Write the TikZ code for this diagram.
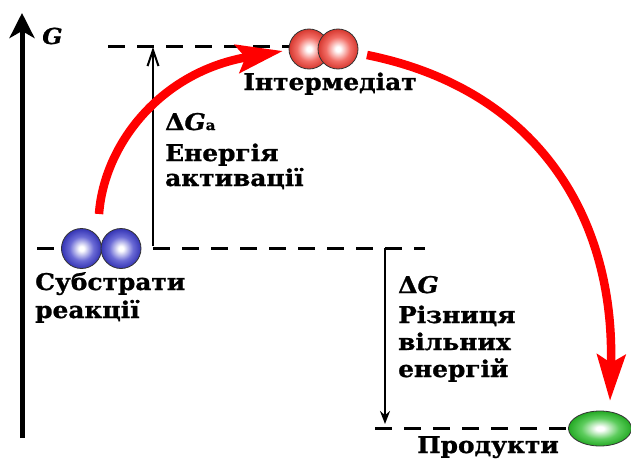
\documentclass[tikz,border=0pt]{standalone}
\usepackage{fontspec}
\setmainfont{DejaVu Serif}[FakeStretch=1.08, BoldFeatures={FakeBold=1}, BoldItalicFeatures={FakeBold=1}]
\usetikzlibrary{arrows.meta,shapes.geometric}

\definecolor{mblue}{RGB}{58,58,200}
\definecolor{mred}{RGB}{238,62,52}
\definecolor{mgreen}{RGB}{40,188,40}
\pgfdeclareradialshading{ballblue}{\pgfpoint{0bp}{0bp}}{color(0bp)=(white); color(3bp)=(white); color(15bp)=(mblue!75!white); color(25bp)=(mblue!90!black); color(50bp)=(mblue!90!black)}
\pgfdeclareradialshading{ballred}{\pgfpoint{0bp}{0bp}}{color(0bp)=(white); color(3bp)=(white); color(15bp)=(mred!75!white); color(25bp)=(mred!90!black); color(50bp)=(mred!90!black)}
\pgfdeclareradialshading{ballgreen}{\pgfpoint{0bp}{0bp}}{color(0bp)=(white); color(3bp)=(white); color(15bp)=(mgreen!75!white); color(25bp)=(mgreen!90!black); color(50bp)=(mgreen!90!black)}

\tikzset{
	level/.style={line width=3pt, dash pattern=on 17pt off 12pt},
	molecule/.style={circle, draw=black!80, line width=0.8pt, minimum size=40pt, inner sep=0pt, shading=#1},
	redarrow/.style={draw=red, line width=8.5pt, -{Stealth[length=46pt,width=28pt,inset=8pt]}},
	lbl/.style={font=\bfseries\fontsize{23}{23}\selectfont, inner sep=0pt, anchor=base west},
}

\begin{document}
\begin{tikzpicture}[x=1pt,y=-1pt]
	\useasboundingbox (0,0) rectangle (631,460);
	% axis G
	\coordinate (gbot) at (22,438);
	\coordinate (gtop) at (22,13);
	\draw[line width=5pt,-{Stealth[length=25pt,width=25pt,inset=7pt]}] (gbot) -- (gtop);
	\node[lbl, font=\bfseries\itshape\fontsize{22}{22}\selectfont] (glab) at (42,44) {G};
	% energy levels
	\coordinate (top1) at (108,47);
	\coordinate (top2) at (362,47);
	\coordinate (sub1) at (37,248);
	\coordinate (sub2) at (425,248);
	\coordinate (pro1) at (375,428);
	\coordinate (pro2) at (570,428);
	\draw[level] (top1) -- (top2);
	\draw[level] (sub1) -- (sub2);
	\draw[level] (pro1) -- (pro2);
	% differences
	\coordinate (dga1) at (153,246);
	\coordinate (dga2) at (153,47);
	\coordinate (dg1) at (385,248);
	\coordinate (dg2) at (385,424);
	\draw[line width=2pt,-{Straight Barb[length=16pt,width=11pt]}] (dga1) -- (dga2);
	\draw[line width=2pt,-{Stealth[length=13pt,width=10pt]}] (dg1) -- (dg2);
	% molecules
	\node[molecule=ballblue] (s1) at (81.5,248.5) {};
	\node[molecule=ballblue] (s2) at (121,248.5) {};
	\node[molecule=ballred] (i1) at (309,49) {};
	\node[molecule=ballred] (i2) at (338,49) {};
	\node[ellipse, draw=black!80, line width=0.8pt, minimum width=63pt, minimum height=35pt, inner sep=0pt, shading=ballgreen] (p) at (600,428.5) {};
	% reaction path
	\coordinate (r1) at (99,214);
	\coordinate (r2) at (283,51);
	\coordinate (r3) at (367,55);
	\coordinate (r4) at (610,401);
	\draw[redarrow] (r1) .. controls (104,145) and (160,72) .. (r2);
	\draw[redarrow] (r3) .. controls (540,90) and (615,220) .. (r4);
	% labels
	\node[lbl, anchor=base] (inter) at (330,90) {Інтермедіат};
	\node[lbl] (subst1) at (35,290) {Субстрати};
	\node[lbl] (subst2) at (35,318) {реакції};
	\node[lbl] (act1) at (165,130) {Δ\textit{G}{\fontsize{14}{14}\selectfont a}};
	\node[lbl] (act2) at (165,161) {Енергія};
	\node[lbl] (act3) at (165,186) {активації};
	\node[lbl] (dif1) at (398,293) {Δ\textit{G}};
	\node[lbl] (dif2) at (398,323) {Різниця};
	\node[lbl] (dif3) at (398,350) {вільних};
	\node[lbl] (dif4) at (398,377) {енергій};
	\node[lbl, anchor=base] (prod) at (488,453) {Продукти};
\end{tikzpicture}
\end{document}
